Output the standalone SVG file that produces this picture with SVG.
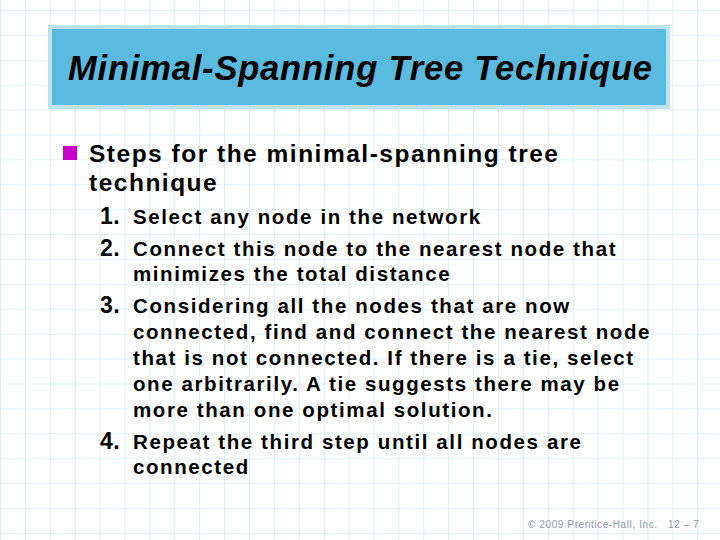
<svg xmlns="http://www.w3.org/2000/svg" width="720" height="540" viewBox="0 0 720 540">
<defs>
<pattern id="grid" x="0" y="10" width="24.9" height="24.9" patternUnits="userSpaceOnUse">
<path d="M0 0H24.9M0 0V24.9" fill="none" stroke="#C5E3EC" stroke-width="1.2"/>
</pattern>
<style>
.t{font-family:"Liberation Sans",Arial,sans-serif;font-weight:bold;fill:#000}
.n{font-size:23px;letter-spacing:0.5px}
.s{font-size:20.5px;letter-spacing:1.6px}
</style>
</defs>
<rect width="720" height="540" fill="#fff"/>
<rect width="720" height="540" fill="url(#grid)"/>
<g id="title">
<rect x="48" y="25" width="622" height="84" fill="#BEE3EF"/>
<rect x="52" y="29" width="614" height="76" fill="#5BBADF"/>
<text x="68" y="80" class="t" font-size="34.5" font-style="italic" textLength="584" lengthAdjust="spacing">Minimal-Spanning Tree Technique</text>
</g>
<g id="body">
<rect x="63" y="146" width="14" height="14" fill="#CC00CC"/>
<text class="t" font-size="24.5" letter-spacing="1.5"><tspan x="89" y="162">Steps for the minimal-spanning tree</tspan><tspan x="89" y="191">technique</tspan></text>
<text class="t n" x="100" y="224">1.</text>
<text class="t s" x="133" y="224">Select any node in the network</text>
<text class="t n" x="100" y="256">2.</text>
<text class="t s"><tspan x="133" y="256">Connect this node to the nearest node that</tspan><tspan x="133" y="281">minimizes the total distance</tspan></text>
<text class="t n" x="100" y="313">3.</text>
<text class="t s"><tspan x="133" y="313">Considering all the nodes that are now</tspan><tspan x="133" y="339">connected, find and connect the nearest node</tspan><tspan x="133" y="365">that is not connected. If there is a tie, select</tspan><tspan x="133" y="391">one arbitrarily. A tie suggests there may be</tspan><tspan x="133" y="417">more than one optimal solution.</tspan></text>
<text class="t n" x="100" y="449">4.</text>
<text class="t s"><tspan x="133" y="449">Repeat the third step until all nodes are</tspan><tspan x="133" y="474">connected</tspan></text>
</g>
<g id="footer" font-family="Liberation Sans,Arial,sans-serif" font-size="10" fill="#8A9BAA" letter-spacing="0.6">
<text x="528" y="528">© 2009 Prentice-Hall, Inc.</text>
<text x="668" y="528">12 – 7</text>
</g>
</svg>
